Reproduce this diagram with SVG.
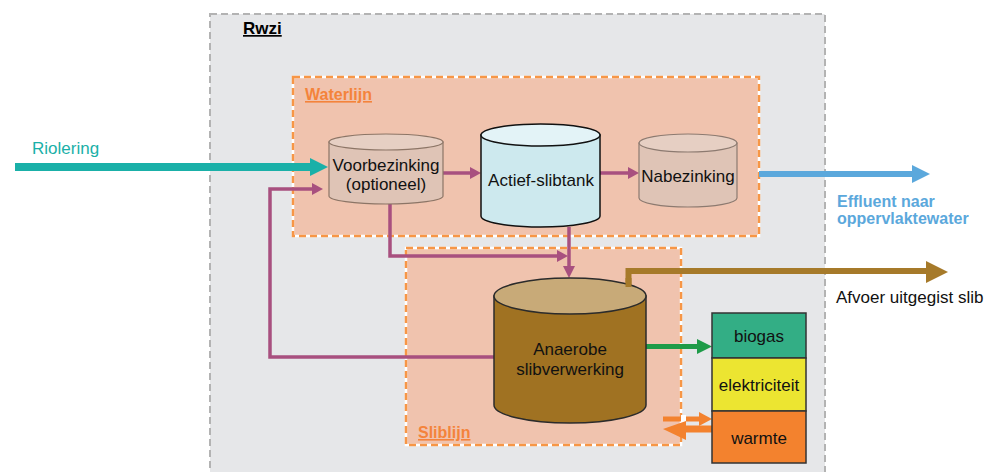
<svg xmlns="http://www.w3.org/2000/svg" width="991" height="472" viewBox="0 0 991 472">
<style>
text{font-family:"Liberation Sans",Arial,sans-serif;}
.lbl{font-size:17px;fill:#111;text-anchor:middle;}
.title{font-size:16px;font-weight:bold;text-decoration:underline;}
.obox{stroke:#f79646;stroke-width:2.5;stroke-dasharray:7 4;fill:none;}
.wbox{stroke:#ffffff;stroke-width:2.5;}
.pur{stroke:#a8507f;stroke-width:3.5;fill:none;}
.purh{fill:#a8507f;}
</style>
<rect width="991" height="472" fill="#ffffff"/>
<g id="rwzi">
<rect x="210" y="14" width="615" height="470" fill="#e6e7e9" stroke="#b3b3b3" stroke-width="2" stroke-dasharray="7 4"/>
<text x="243" y="34" class="title" style="font-size:17px" fill="#000">Rwzi</text>
</g>
<g id="waterlijn">
<rect x="293" y="77" width="466" height="159" fill="#f0c3ae" class="wbox"/>
<rect x="293" y="77" width="466" height="159" class="obox"/>
<text x="305" y="100" class="title" fill="#f4833b">Waterlijn</text>
</g>
<g id="sliblijn">
<rect x="406" y="248" width="275" height="197" fill="#f0c3ae" class="wbox"/>
<rect x="406" y="248" width="275" height="197" class="obox"/>
<text x="418" y="438" class="title" fill="#f4833b">Sliblijn</text>
</g>
<g id="connectors">
<rect x="15" y="163" width="297" height="8" fill="#1ab0a8"/>
<polygon points="310,158 328,167 310,176" fill="#1ab0a8"/>
<line x1="443" y1="173" x2="472" y2="173" class="pur"/>
<polygon points="470,167 481,173 470,179" class="purh"/>
<line x1="600" y1="173" x2="630" y2="173" class="pur"/>
<polygon points="628,167 639,173 628,179" class="purh"/>
<polyline points="390,204 390,256 560,256" class="pur"/>
<polygon points="557,250 568,256 557,262" class="purh"/>
<line x1="569" y1="227" x2="569" y2="268" class="pur"/>
<polygon points="563,266 569,278 575,266" class="purh"/>
<polyline points="494,357 270,357 270,189 314,189" class="pur"/>
<polygon points="312,183 323,189 312,195" class="purh"/>
<rect x="759" y="171" width="155" height="6" fill="#5ba8dc"/>
<polygon points="912,165 930,174 912,183" fill="#5ba8dc"/>
<polyline points="628.5,287 628.5,271 928,271" fill="none" stroke="#a67a2a" stroke-width="6"/>
<polygon points="926,261 948,272 926,283" fill="#a67a2a"/>
<line x1="646" y1="346.5" x2="699" y2="346.5" stroke="#1e9b48" stroke-width="5"/>
<polygon points="697,339 712,346.5 697,354" fill="#1e9b48"/>
<rect x="663" y="416.5" width="39" height="5" fill="#f3822e"/>
<rect x="681" y="415" width="5" height="8" fill="#ffffff"/>
<polygon points="699,412 712,419 699,426" fill="#f3822e"/>
<rect x="683" y="425.5" width="29" height="7" fill="#f3822e"/>
<polygon points="686,421 663,429 686,440" fill="#f3822e"/>
</g>
<g id="voorbezinking">
<path d="M329,142 L329,196 A57,8 0 0 0 443,196 L443,142 Z" fill="#dfc4b6" stroke="#8c7566" stroke-width="1.2"/>
<ellipse cx="386" cy="142" rx="57" ry="8" fill="#e6cfc3" stroke="#8c7566" stroke-width="1.2"/>
<text x="386" y="171" class="lbl">Voorbezinking</text>
<text x="386" y="190" class="lbl">(optioneel)</text>
</g>
<g id="actief-slibtank">
<path d="M481,135 L481,216 A59.5,11 0 0 0 600,216 L600,135 Z" fill="#cde9ee" stroke="#111" stroke-width="1.5"/>
<ellipse cx="540.5" cy="135" rx="59.5" ry="11" fill="#e3f3f7" stroke="#111" stroke-width="1.5"/>
<text x="541" y="186" class="lbl">Actief-slibtank</text>
</g>
<g id="nabezinking">
<path d="M639,143 L639,198 A49,9 0 0 0 737,198 L737,143 Z" fill="#dfc4b6" stroke="#8c7a70" stroke-width="1.2"/>
<ellipse cx="688" cy="143" rx="49" ry="9" fill="#e6cfc3" stroke="#8c7a70" stroke-width="1.2"/>
<text x="688" y="182" class="lbl">Nabezinking</text>
</g>
<g id="anaerobe">
<path d="M494,296 L494,405 A76,18 0 0 0 646,405 L646,296 Z" fill="#a07222" stroke="#2b2b2b" stroke-width="1.5"/>
<ellipse cx="570" cy="296" rx="76" ry="18" fill="#c8aa78" stroke="#2b2b2b" stroke-width="1.5"/>
<line x1="628.5" y1="278" x2="628.5" y2="287" stroke="#a67a2a" stroke-width="6"/>
<text x="570" y="355" class="lbl">Anaerobe</text>
<text x="570" y="375" class="lbl">slibverwerking</text>
</g>
<g id="biogas">
<rect x="712" y="313" width="94" height="45" fill="#33ae85" stroke="#333" stroke-width="1.5"/>
<text x="759" y="342" class="lbl">biogas</text>
</g>
<g id="elektriciteit">
<rect x="712" y="358" width="94" height="53" fill="#ece531" stroke="#333" stroke-width="1.5"/>
<text x="759" y="391" class="lbl">elektriciteit</text>
</g>
<g id="warmte">
<rect x="712" y="411" width="94" height="52" fill="#f3822e" stroke="#333" stroke-width="1.5"/>
<text x="759" y="444" class="lbl">warmte</text>
</g>
<g id="labels">
<text x="32" y="154" style="font-size:17px" fill="#1ab0a8">Riolering</text>
<text x="837" y="207" style="font-size:16px;font-weight:bold" fill="#5ba8dc">Effluent naar</text>
<text x="837" y="224" style="font-size:16px;font-weight:bold" fill="#5ba8dc">oppervlaktewater</text>
<text x="836" y="303" style="font-size:17px" fill="#111">Afvoer uitgegist slib</text>
</g>
</svg>
